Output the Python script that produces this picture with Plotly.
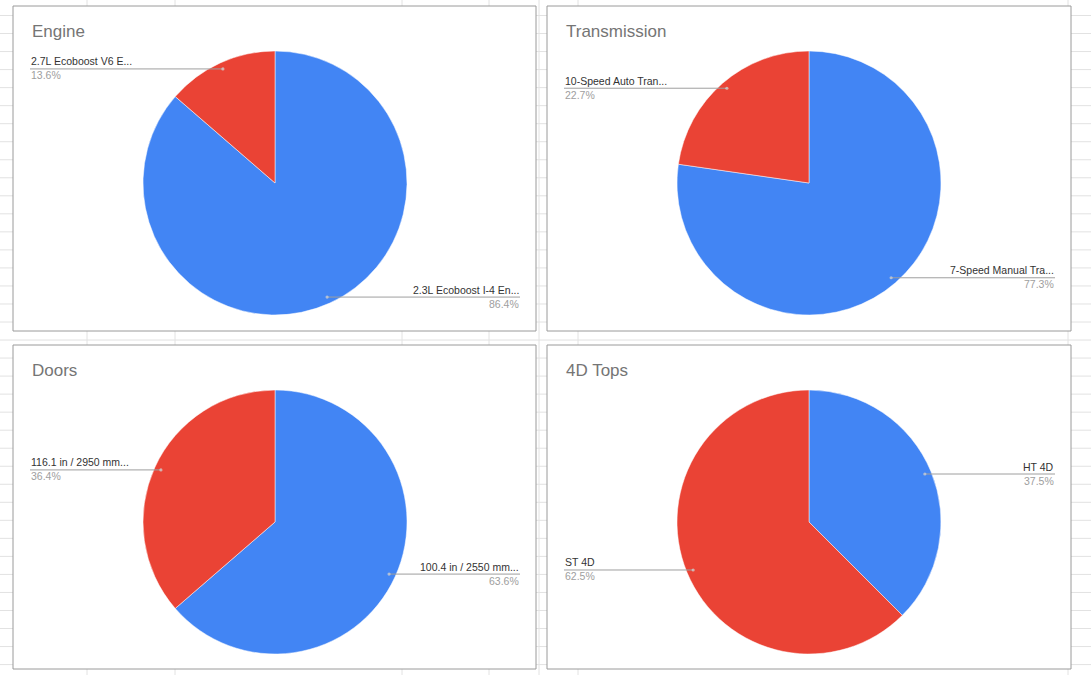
import math
import plotly.graph_objects as go

W, H = 1091, 675

# ---- data ----
titles = ["Engine", "Transmission", "Doors", "4D Tops"]
engine_labels = ["2.3L Ecoboost I-4 En...", "2.7L Ecoboost V6 E..."]
engine_values = [19, 3]
trans_labels = ["7-Speed Manual Tra...", "10-Speed Auto Tran..."]
trans_values = [17, 5]
doors_labels = ["100.4 in / 2550 mm...", "116.1 in / 2950 mm..."]
doors_values = [14, 8]
tops_labels = ["HT 4D", "ST 4D"]
tops_values = [3, 5]
slice_colors = ["#4285f4", "#ea4335"]

series = [(engine_labels, engine_values), (trans_labels, trans_values),
          (doors_labels, doors_values), (tops_labels, tops_values)]

# ---- layout geometry (pixels) ----
boxes = [(13, 6, 536, 331), (547, 6, 1071, 331), (13, 345, 536, 669), (547, 345, 1071, 669)]
R = 132
grid_h = [15.5 + 18.03 * k for k in range(38)]
grid_v = [87, 175, 402, 489, 539, 578, 1068]

FONT = "Liberation Sans, Arial, sans-serif"


def fx(x):
    return x / W


def fy(y):
    return 1 - y / H


fig = go.Figure()
shapes = []
annotations = []

# spreadsheet grid
for y in grid_h:
    shapes.append(dict(type="line", xref="paper", yref="paper", x0=0, x1=1, y0=fy(y), y1=fy(y),
                       line=dict(color="#e2e2e2", width=1), layer="below"))
for x in grid_v:
    shapes.append(dict(type="line", xref="paper", yref="paper", x0=fx(x), x1=fx(x), y0=0, y1=1,
                       line=dict(color="#e2e2e2", width=1), layer="below"))

for (title, (labels, values), (l, t, r, b)) in zip(titles, series, boxes):
    # chart box
    shapes.append(dict(type="rect", xref="paper", yref="paper", x0=fx(l), x1=fx(r), y0=fy(b), y1=fy(t),
                       fillcolor="white", line=dict(color="#9a9a9a", width=1), layer="below"))
    cx, cy = l + 262, t + 177
    fig.add_trace(go.Pie(
        labels=labels, values=values, sort=False, direction="clockwise", rotation=0,
        marker=dict(colors=slice_colors, line=dict(color="white", width=0.5)),
        textinfo="none", hoverinfo="skip", showlegend=False,
        domain=dict(x=[fx(cx - R), fx(cx + R)], y=[fy(cy + R), fy(cy - R)]),
    ))
    annotations.append(dict(text=title, xref="paper", yref="paper", x=fx(l + 17), y=fy(t + 25),
                            xanchor="left", yanchor="middle", showarrow=False,
                            font=dict(family=FONT, size=17, color="#757575")))
    total = sum(values)
    cum = 0
    for lab, v in zip(labels, values):
        mid = (cum + v / 2) / total * 2 * math.pi
        cum += v
        dx, dy = math.sin(mid), -math.cos(mid)
        px, py = cx + 0.95 * R * dx, cy + 0.95 * R * dy
        left = dx < 0
        ex = l + 17 if left else r - 16
        shapes.append(dict(type="line", xref="paper", yref="paper", x0=fx(px), x1=fx(ex),
                           y0=fy(py), y1=fy(py), line=dict(color="#9e9e9e", width=1), layer="above"))
        shapes.append(dict(type="circle", xref="paper", yref="paper", x0=fx(px - 1.6), x1=fx(px + 1.6),
                           y0=fy(py + 1.6), y1=fy(py - 1.6), fillcolor="rgba(210,210,210,0.75)",
                           line=dict(width=0), layer="above"))
        anchor = "left" if left else "right"
        annotations.append(dict(text=lab, xref="paper", yref="paper", x=fx(ex), y=fy(py - 0.5),
                                xanchor=anchor, yanchor="bottom", showarrow=False, borderpad=0,
                                font=dict(family=FONT, size=10.5, color="#333333")))
        annotations.append(dict(text=f"{v / total * 100:.1f}%", xref="paper", yref="paper", x=fx(ex),
                                y=fy(py - 0.5), xanchor=anchor, yanchor="top", showarrow=False, borderpad=0,
                                font=dict(family=FONT, size=10.5, color="#9e9e9e")))

fig.update_layout(
    width=W, height=H, margin=dict(l=0, r=0, t=0, b=0),
    paper_bgcolor="white", plot_bgcolor="rgba(0,0,0,0)",
    shapes=shapes, annotations=annotations, showlegend=False,
)

fig.write_html("out.html")
